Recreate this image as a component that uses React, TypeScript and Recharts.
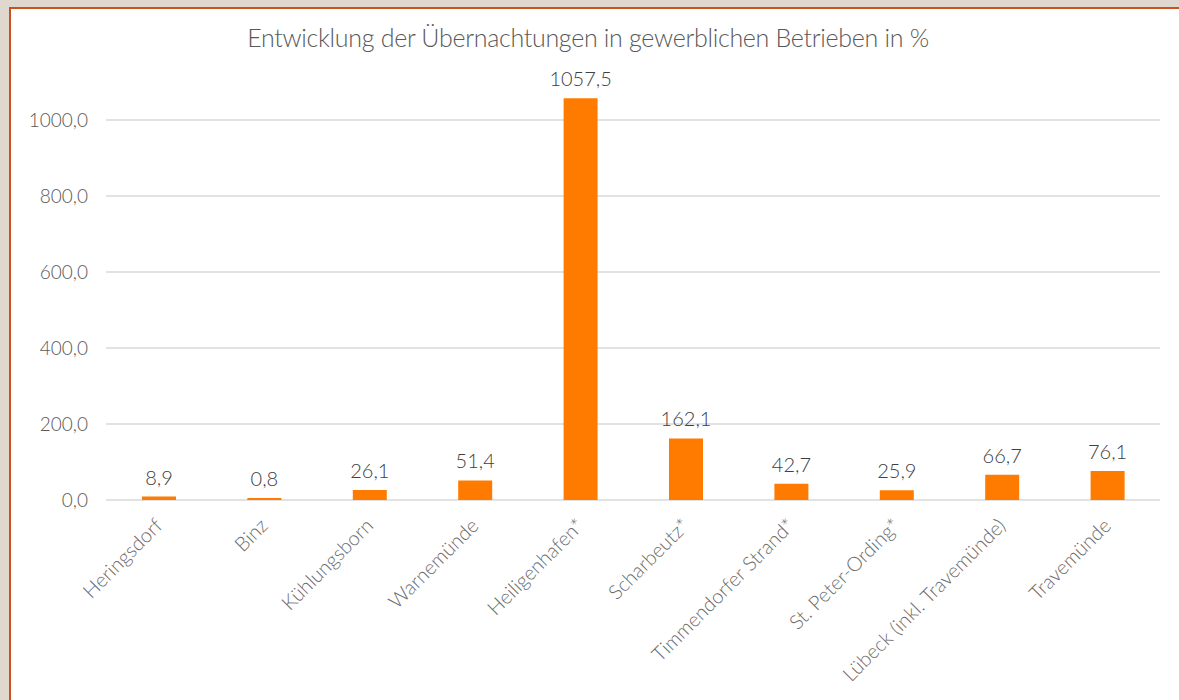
import React from 'react';
import { BarChart, Bar, XAxis, YAxis, CartesianGrid, LabelList } from 'recharts';

const orte = [
  'Heringsdorf',
  'Binz',
  'Kühlungsborn',
  'Warnemünde',
  'Heiligenhafen*',
  'Scharbeutz*',
  'Timmendorfer Strand*',
  'St. Peter-Ording*',
  'Lübeck (inkl. Travemünde)',
  'Travemünde',
];
const entwicklung = [8.9, 0.8, 26.1, 51.4, 1057.5, 162.1, 42.7, 25.9, 66.7, 76.1];
const yTicks = [0, 200, 400, 600, 800, 1000];

const data = orte.map((ort, i) => ({ ort, wert: entwicklung[i] }));

const fmt = (v: number) => v.toFixed(1).replace('.', ',');
const FONT = 'Lato, "Open Sans", sans-serif';
const GREY = '#595959';

function OrtTick(props: any) {
  const { x, y, payload } = props;
  return (
    <g transform={`translate(${x + 5},${y + 25})`}>
      <text
        transform="rotate(-45)"
        textAnchor="end"
        fill="#6b6b6b"
        fontSize={20}
        fontFamily={FONT}
        fontWeight={300}
      >
        {payload.value}
      </text>
    </g>
  );
}

export default function App() {
  return (
    <div
      style={{
        position: 'fixed',
        left: 0,
        top: 0,
        width: 1179,
        height: 700,
        background: '#e0d8ce',
        overflow: 'hidden',
      }}
    >
      <div
        style={{
          position: 'absolute',
          left: 9,
          top: 7,
          width: 1200,
          height: 720,
          background: '#ffffff',
          borderLeft: '2px solid #c9531f',
          borderTop: '2px solid #c9531f',
        }}
      />
      <div
        style={{
          position: 'absolute',
          left: 0,
          top: 22,
          width: 1176,
          textAlign: 'center',
          fontFamily: FONT,
          fontWeight: 300,
          fontSize: 25,
          letterSpacing: -0.3,
          color: GREY,
        }}
      >
        Entwicklung der Übernachtungen in gewerblichen Betrieben in %
      </div>
      <div style={{ position: 'absolute', left: 0, top: 0 }}>
        <BarChart
          width={1179}
          height={700}
          data={data}
          margin={{ top: 82, right: 19, bottom: 10, left: 20 }}
        >
          <CartesianGrid vertical={false} horizontalValues={yTicks} stroke="#d9d9d9" strokeWidth={1.5} />
          <XAxis
            dataKey="ort"
            interval={0}
            height={190}
            axisLine={false}
            tickLine={false}
            tickSize={0}
            tick={<OrtTick />}
          />
          <YAxis
            width={86}
            domain={[0, 1100]}
            ticks={yTicks}
            axisLine={false}
            tickLine={false}
            tickMargin={12}
            tickFormatter={fmt}
            tick={{ fill: GREY, fontSize: 19, fontFamily: FONT, fontWeight: 300 }}
          />
          <Bar dataKey="wert" fill="#ff7b00" barSize={34} minPointSize={2} isAnimationActive={false}>
            <LabelList
              dataKey="wert"
              position="top"
              offset={12}
              formatter={(v: any) => fmt(Number(v))}
              fill="#404040"
              fontSize={20}
              fontFamily={FONT}
              fontWeight={300}
            />
          </Bar>
        </BarChart>
      </div>
    </div>
  );
}
